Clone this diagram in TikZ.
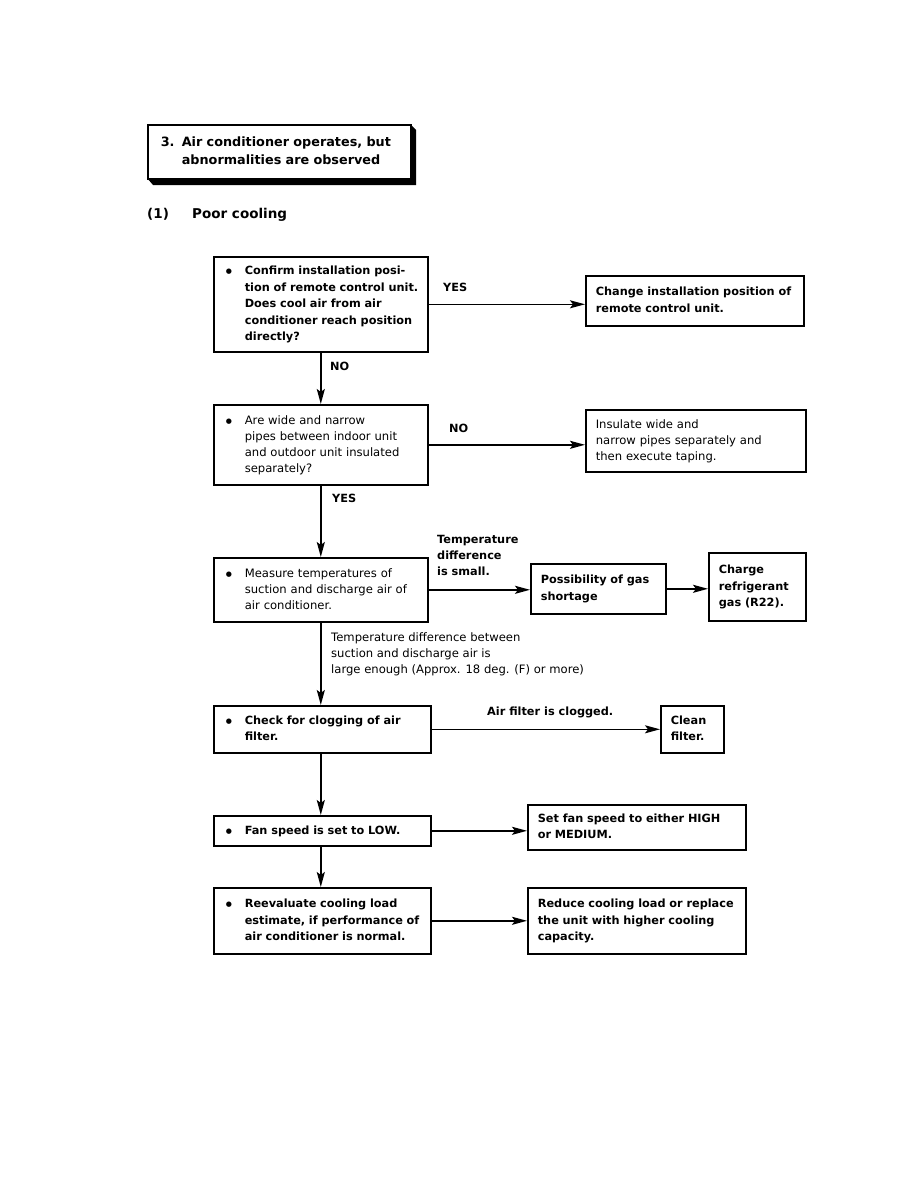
\documentclass[tikz,border=0pt]{standalone}
\usepackage{fontspec}
\setmainfont{DejaVu Sans}
\usetikzlibrary{arrows.meta}
\newcommand\bxfont{\fontsize{11.3}{16.5}\selectfont\bfseries}
\newcommand\rgfont{\fontsize{11.6}{16}\selectfont}
\newcommand\bul{\raisebox{0.8pt}{\fontsize{7}{8}\selectfont ●}}
\begin{document}
\begin{tikzpicture}[x=1pt,y=-1pt,
  box/.style={draw, line width=1.6pt, anchor=north west, align=left, inner ysep=0pt, inner xsep=10pt, font=\bxfont},
  bbox/.style={box, inner xsep=12pt},
  lbl/.style={anchor=west, inner sep=0pt, font=\bxfont, align=left},
  arr/.style={line width=1.6pt, -{Stealth[length=15pt,width=8pt,inset=3pt]}}]
\useasboundingbox (0,0) rectangle (918,1188);
% header
\fill (410,124) -- (416,130) -- (416,185) -- (153,185) -- (147,178) -- (410,178) -- cycle;
\node[box, fill=white, text width=237pt, minimum height=54pt, inner xsep=13pt, font=\fontsize{12.8}{18}\selectfont\bfseries] (hdr) at (147,124)
  {\begin{tabular}{@{}p{21pt}@{}l@{}}3. & Air conditioner operates, but\\ & abnormalities are observed\end{tabular}};
\node[anchor=west, inner sep=0pt, font=\fontsize{13.5}{18}\selectfont\bfseries] (ttl) at (147,215) {\makebox[45pt][l]{(1)}Poor cooling};
% boxes
\node[bbox, text width=190pt, minimum height=95pt] (b1) at (213,256)
  {\begin{tabular}{@{}p{19pt}@{}l@{}}\bul & Confirm installation posi-\\ & tion of remote control unit.\\ & Does cool air from air\\ & conditioner reach position\\ & directly?\end{tabular}};
\node[box, text width=198pt, minimum height=50pt] (r1) at (585,275)
  {\begin{tabular}{@{}l@{}}Change installation position of\\remote control unit.\end{tabular}};
\node[bbox, text width=190pt, minimum height=80pt, font=\rgfont] (b2) at (213,404)
  {\begin{tabular}{@{}p{19pt}@{}l@{}}\bul & Are wide and narrow\\ & pipes between indoor unit\\ & and outdoor unit insulated\\ & separately?\end{tabular}};
\node[box, text width=200pt, minimum height=62pt, font=\rgfont] (r2) at (585,409)
  {\begin{tabular}{@{}l@{}}Insulate wide and\\narrow pipes separately and\\then execute taping.\end{tabular}};
\node[bbox, text width=190pt, minimum height=64pt, font=\rgfont] (b3) at (213,557)
  {\begin{tabular}{@{}p{19pt}@{}l@{}}\bul & Measure temperatures of\\ & suction and discharge air of\\ & air conditioner.\end{tabular}};
\node[box, text width=115pt, minimum height=50pt] (gas) at (530,563)
  {\begin{tabular}{@{}l@{}}Possibility of gas\\shortage\end{tabular}};
\node[box, text width=77pt, minimum height=68pt] (chg) at (708,552)
  {\begin{tabular}{@{}l@{}}Charge\\refrigerant\\gas (R22).\end{tabular}};
\node[bbox, text width=193pt, minimum height=47pt] (b4) at (213,705)
  {\begin{tabular}{@{}p{19pt}@{}l@{}}\bul & Check for clogging of air\\ & filter.\end{tabular}};
\node[box, text width=43pt, minimum height=47pt] (cln) at (660,705)
  {\begin{tabular}{@{}l@{}}Clean\\filter.\end{tabular}};
\node[bbox, text width=193pt, minimum height=30pt] (b5) at (213,815)
  {\begin{tabular}{@{}p{19pt}@{}l@{}}\bul & Fan speed is set to LOW.\end{tabular}};
\node[box, text width=198pt, minimum height=45pt] (r5) at (527,804)
  {\begin{tabular}{@{}l@{}}Set fan speed to either HIGH\\or MEDIUM.\end{tabular}};
\node[bbox, text width=193pt, minimum height=66pt] (b6) at (213,887)
  {\begin{tabular}{@{}p{19pt}@{}l@{}}\bul & Reevaluate cooling load\\ & estimate, if performance of\\ & air conditioner is normal.\end{tabular}};
\node[box, text width=198pt, minimum height=66pt] (r6) at (527,887)
  {\begin{tabular}{@{}l@{}}Reduce cooling load or replace\\the unit with higher cooling\\capacity.\end{tabular}};
% labels
\node[lbl] (l1) at (443,287) {YES};
\node[lbl] (l2) at (330,366) {NO};
\node[lbl] (l3) at (449,428) {NO};
\node[lbl] (l4) at (332,498) {YES};
\node[lbl, font=\fontsize{11.3}{16}\selectfont\bfseries] (l5) at (437,555) {Temperature\\difference\\is small.};
\node[lbl, font=\rgfont] (l6) at (331,654) {Temperature difference between\\suction and discharge air is\\large enough (Approx. 18 deg. (F) or more)};
\node[lbl] (l7) at (487,712) {Air filter is clogged.};
% connectors
\draw[arr] (b1.east) -- (b1.east -| r1.west);
\draw[arr] (b1.south) -- (b2.north);
\draw[arr] (b2.east) -- (b2.east -| r2.west);
\draw[arr] (b2.south) -- (b3.north);
\draw[arr] (b3.east) -- (b3.east -| gas.west);
\draw[arr] (gas.east) -- (gas.east -| chg.west);
\draw[arr] (b3.south) -- (b4.north -| b3.south);
\draw[arr] (b4.east) -- (b4.east -| cln.west);
\draw[arr] (b4.south -| b3.south) -- (b5.north -| b3.south);
\draw[arr] (b5.east) -- (b5.east -| r5.west);
\draw[arr] (b5.south -| b3.south) -- (b6.north -| b3.south);
\draw[arr] (b6.east) -- (b6.east -| r6.west);
\end{tikzpicture}
\end{document}
